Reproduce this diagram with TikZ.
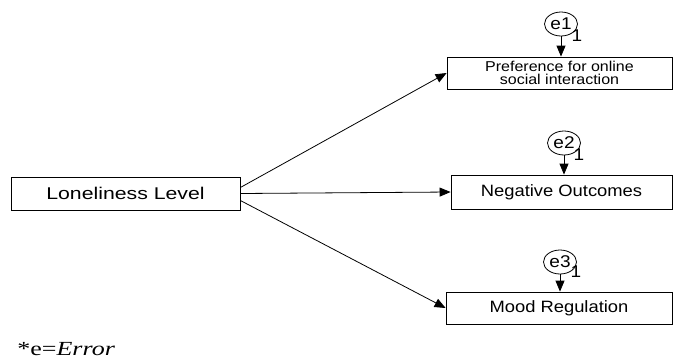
\documentclass[tikz,border=0pt]{standalone}
\usepackage{fontspec}
\setmainfont{Liberation Serif}
\newfontfamily\boxfont[FakeStretch=1.12]{Liberation Sans}
\newfontfamily\wideboxfont[FakeStretch=1.25]{Liberation Sans}
\newfontfamily\notefont[FakeStretch=1.3]{Liberation Serif}
\usetikzlibrary{arrows.meta,shapes.geometric}
\tikzstyle{var}=[draw, rectangle, inner sep=0pt, font=\boxfont\fontsize{16.4}{16.4}\selectfont]
\tikzstyle{err}=[draw, ellipse, minimum width=33pt, minimum height=24pt, inner sep=0pt, font=\boxfont\fontsize{17}{17}\selectfont]
\tikzstyle{weight}=[inner sep=0pt, font=\boxfont\fontsize{17}{17}\selectfont]

\begin{document}
\begin{tikzpicture}[x=1pt,y=-1pt,->,>={Triangle[length=11pt,width=9pt]},line width=0.8pt]
\useasboundingbox (0,0) rectangle (673,360);
\node [var, minimum width=229pt, minimum height=33pt, font=\wideboxfont\fontsize{17}{17}\selectfont] (lonely) at (125.5,193.5) {Loneliness Level};
\node [var, minimum width=225pt, minimum height=32pt, align=center, font=\boxfont\fontsize{14.3}{13.5}\selectfont] (pref) at (559.5,73) {Preference for online\\social interaction};
\node [var, minimum width=221pt, minimum height=34pt] (neg) at (561.5,192) {Negative Outcomes};
\node [var, minimum width=226pt, minimum height=32pt] (mood) at (559,308) {Mood Regulation};
% error terms
\node [err] (e1) at (561,24) {e1};
\node [err] (e2) at (564,143) {e2};
\node [err] (e3) at (560,262) {e3};
\node [weight] (w1) at (577,36) {1};
\node [weight] (w2) at (579,155) {1};
\node [weight] (w3) at (576,272) {1};
\draw (e1) -- (e1 |- pref.north);
\draw (e2) -- (e2 |- neg.north);
\draw (e3) -- (e3 |- mood.north);
% paths
\draw ([yshift=6pt]lonely.east) -- (pref.west);
\draw (lonely.east) -- (neg.west);
\draw ([yshift=-7pt]lonely.east) -- (mood.west);
\node [anchor=base west, inner sep=0pt, font=\notefont\fontsize{20}{20}\selectfont] (note) at (17,355) {*e=\textit{Error}};
\end{tikzpicture}
\end{document}
